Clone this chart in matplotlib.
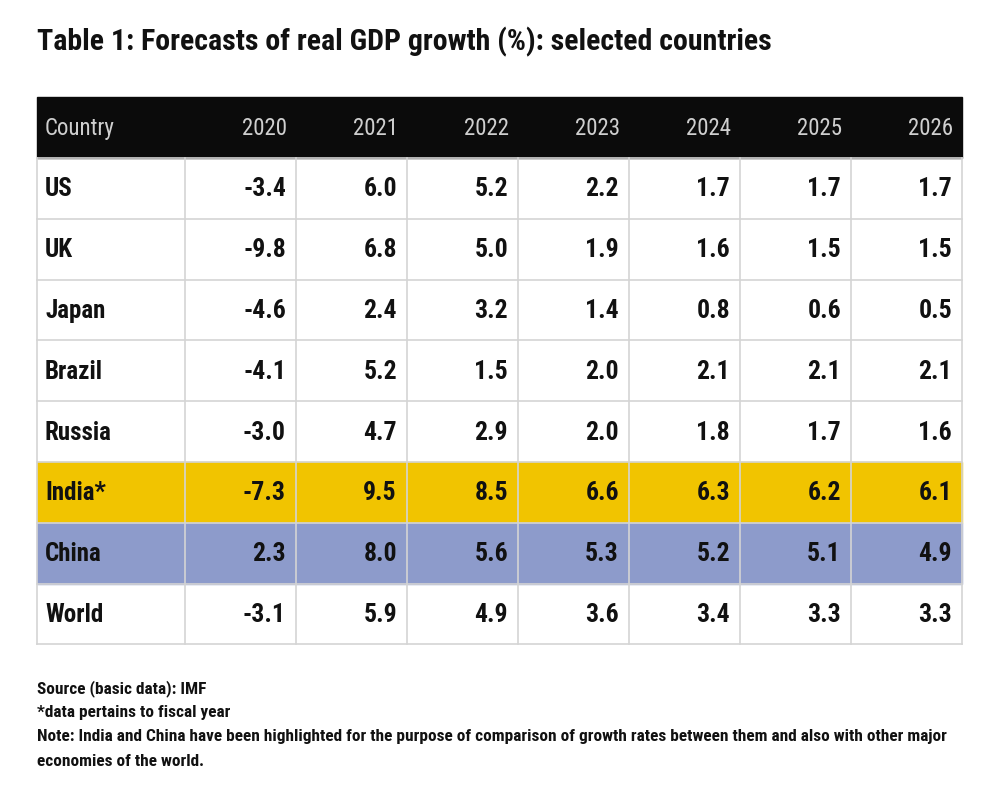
import matplotlib.pyplot as plt
from matplotlib.patches import Rectangle
from matplotlib import font_manager

# table data
years = ['2020', '2021', '2022', '2023', '2024', '2025', '2026']
countries = ['US', 'UK', 'Japan', 'Brazil', 'Russia', 'India*', 'China', 'World']
us = [-3.4, 6.0, 5.2, 2.2, 1.7, 1.7, 1.7]
uk = [-9.8, 6.8, 5.0, 1.9, 1.6, 1.5, 1.5]
japan = [-4.6, 2.4, 3.2, 1.4, 0.8, 0.6, 0.5]
brazil = [-4.1, 5.2, 1.5, 2.0, 2.1, 2.1, 2.1]
russia = [-3.0, 4.7, 2.9, 2.0, 1.8, 1.7, 1.6]
india = [-7.3, 9.5, 8.5, 6.6, 6.3, 6.2, 6.1]
china = [2.3, 8.0, 5.6, 5.3, 5.2, 5.1, 4.9]
world = [-3.1, 5.9, 4.9, 3.6, 3.4, 3.3, 3.3]
values = [us, uk, japan, brazil, russia, india, china, world]
highlight = {'India*': '#f1c400', 'China': '#8d9bcb'}

title = 'Table 1: Forecasts of real GDP growth (%): selected countries'
notes = ['Source (basic data): IMF',
         '*data pertains to fiscal year',
         'Note: India and China have been highlighted for the purpose of comparison of growth rates between them and also with other major',
         'economies of the world.']

installed = {f.name for f in font_manager.fontManager.ttflist}
FONT = 'DejaVu Sans'
for cand in ['Roboto Condensed', 'Fira Sans Condensed', 'Archivo Narrow', 'PT Sans Narrow', 'Encode Sans Condensed']:
    if cand in installed:
        FONT = cand
        break
plt.rcParams['font.family'] = [FONT, 'DejaVu Sans']

fig = plt.figure(figsize=(10, 8), dpi=100)
ax = fig.add_axes([0, 0, 1, 1])
ax.set_xlim(0, 1000)
ax.set_ylim(800, 0)
ax.axis('off')

left, first_w, col_w = 37, 148, 111
top, head_h, row_h = 97, 61, 60.8
right = left + first_w + col_w * len(years)

ax.text(left, 42, title, fontsize=21.5, fontweight='bold', va='center', ha='left', color='#111111')

# header
ax.add_patch(Rectangle((left, top), right - left, head_h, color='#0b0b0b', zorder=1))
ax.text(left + 8, top + head_h / 2 + 1, 'Country', color='#cfcfcf', fontsize=16.5, va='center')
for j, yr in enumerate(years):
    xr = left + first_w + col_w * (j + 1) - 9
    ax.text(xr, top + head_h / 2 + 1, yr, color='#cfcfcf', fontsize=16.5, va='center', ha='right')

# body
y0 = top + head_h
for i, (name, row) in enumerate(zip(countries, values)):
    y = y0 + i * row_h
    if name in highlight:
        ax.add_patch(Rectangle((left, y), right - left, row_h, color=highlight[name], zorder=1))
    ax.text(left + 8, y + row_h / 2 + 1, name, fontsize=18, fontweight='bold', va='center', color='#111111', zorder=3)
    for j, v in enumerate(row):
        xr = left + first_w + col_w * (j + 1) - 10
        ax.text(xr, y + row_h / 2 + 1, f'{v:.1f}', fontsize=18.5, fontweight='bold', va='center', ha='right', color='#111111', zorder=3)

# grid lines
bottom = y0 + len(countries) * row_h
for i in range(len(countries) + 1):
    ax.plot([left, right], [y0 + i * row_h] * 2, color='#d4d4d4', lw=1.2, zorder=2)
for j in range(len(years) + 2):
    x = left if j == 0 else left + first_w + col_w * (j - 1)
    ax.plot([x, x], [y0, bottom], color='#d4d4d4', lw=1.2, zorder=2)

for k, line in enumerate(notes):
    ax.text(left, 689 + k * 24, line, fontsize=12.4, fontweight='bold', va='center', color='#111111')

fig.savefig('out.png', dpi=100)
